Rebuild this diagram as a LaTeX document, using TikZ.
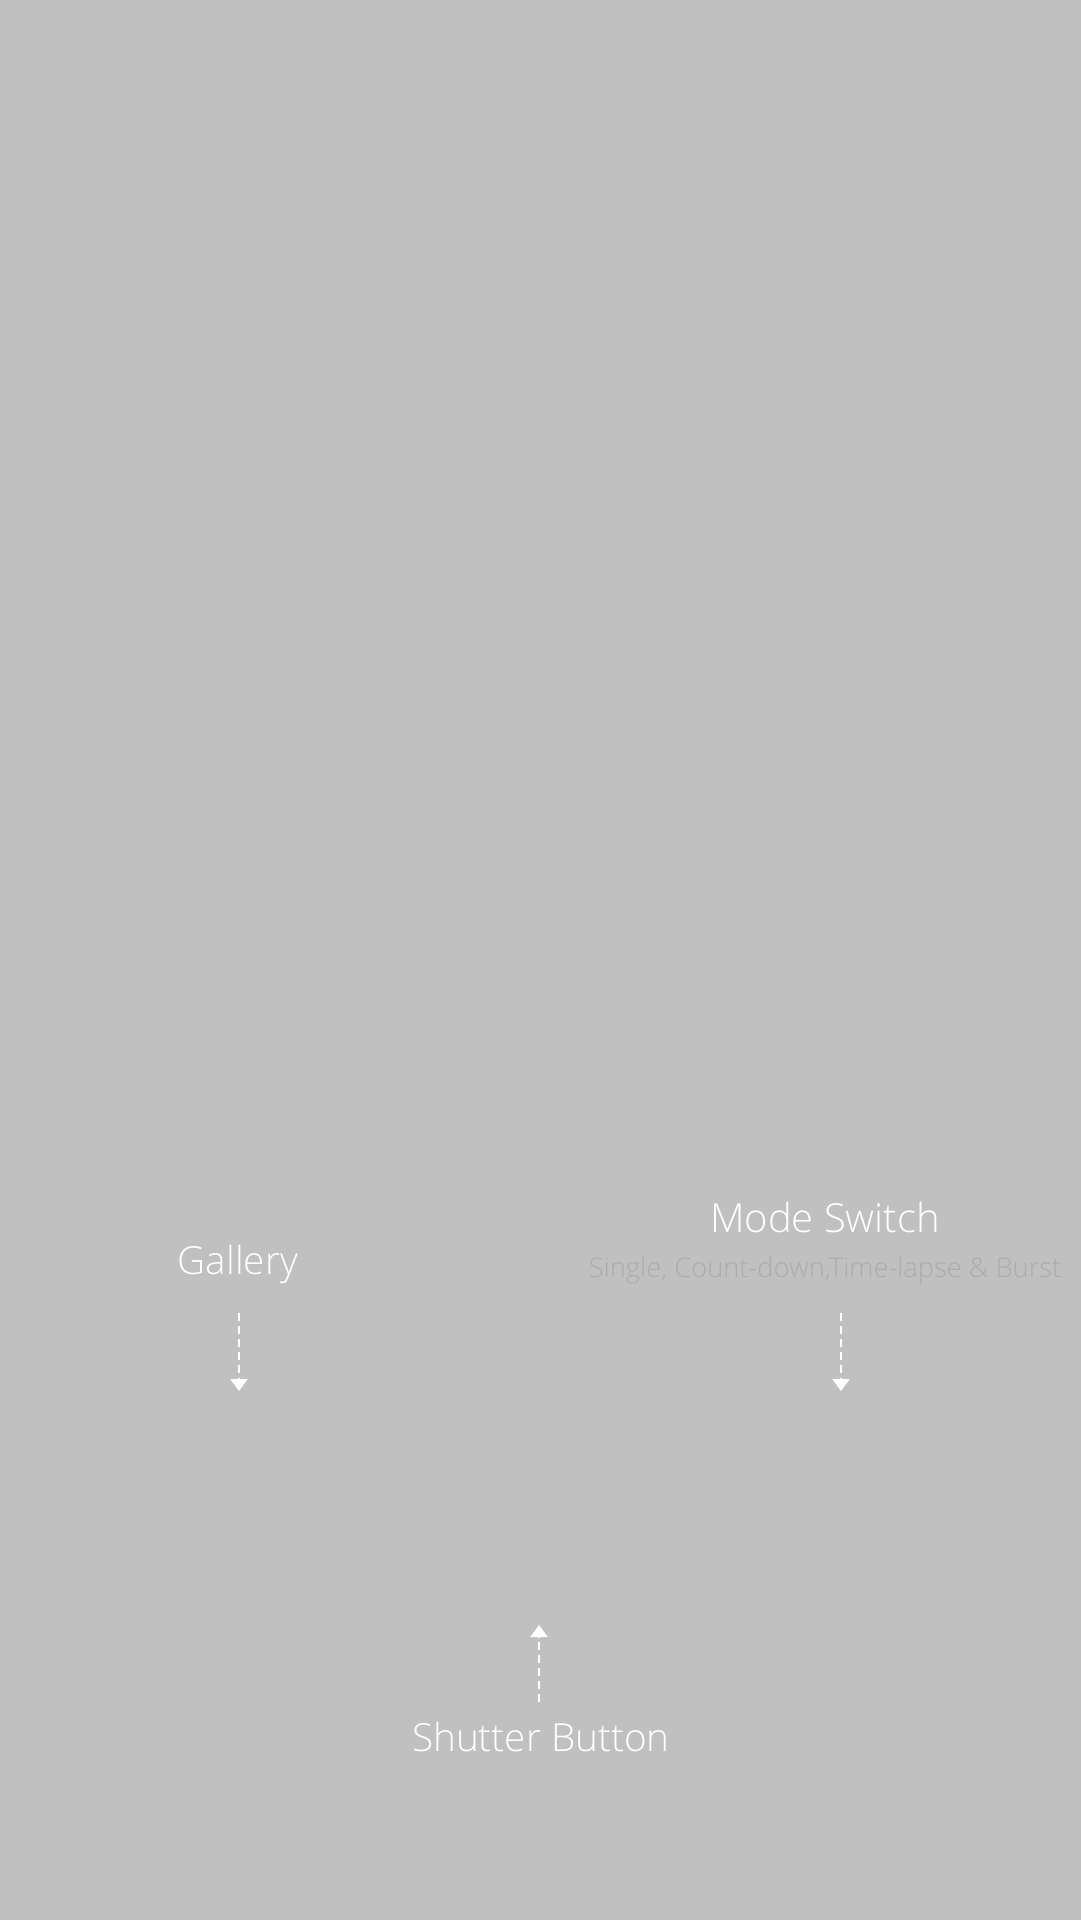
\documentclass[tikz,border=0pt]{standalone}
\usepackage{fontspec}
\setmainfont{Open Sans}[UprightFont=* Light]
\usetikzlibrary{arrows.meta}
\definecolor{bg}{HTML}{C0C0C0}
\definecolor{subgray}{HTML}{ACACAC}
\tikzset{
  label/.style={text=white, anchor=base, inner sep=0pt, font=\fontsize{38.7}{46}\selectfont},
  biglabel/.style={label, font=\fontsize{40}{48}\selectfont},
  sublabel/.style={text=subgray, anchor=base, inner sep=0pt, font=\fontsize{27.3}{32}\selectfont},
  pointer/.style={white, line width=2pt, dash pattern=on 8pt off 5pt, -{Triangle[width=17pt,length=12pt]}}
}
\begin{document}
\begin{tikzpicture}[x=1pt,y=-1pt]
\useasboundingbox (0,0) rectangle (1080,1920);
\fill[bg] (-5,-5) rectangle (1085,1925);
\node[label] (gallery) at (238,1274) {Gallery};
\node[biglabel] (mode) at (825,1232) {Mode Switch};
\node[sublabel] (modesub) at (825,1277) {Single, Count-down,Time-lapse \& Burst};
\node[label] (shutter) at (541,1751) {Shutter Button};
\coordinate (gtop) at (239,1313);
\coordinate (gtip) at (239,1391);
\coordinate (mtop) at (841,1313);
\coordinate (mtip) at (841,1391);
\coordinate (sbot) at (539,1702);
\coordinate (stip) at (539,1625);
\draw[pointer] (gtop) -- (gtip);
\draw[pointer] (mtop) -- (mtip);
\draw[pointer] (sbot) -- (stip);
\end{tikzpicture}
\end{document}
